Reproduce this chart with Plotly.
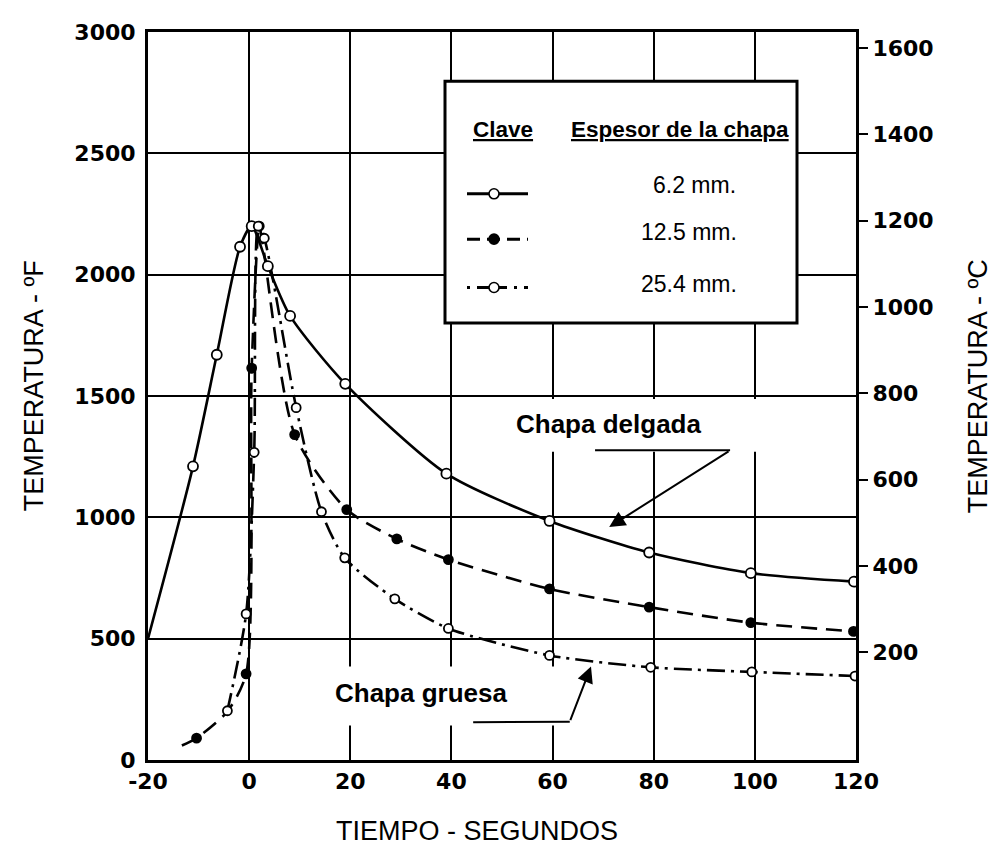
import plotly.graph_objects as go

# ---------------- data ----------------
time_62 = [-20, -11.1, -6.4, -1.8, 0.5, 3.7, 8.1, 19.0, 39.0, 59.4, 79.1, 99.2, 119.6]
temp_62 = [500, 1210, 1670, 2115, 2200, 2035, 1830, 1550, 1180, 985, 855, 770, 735]
marked_62 = [False] + [True] * 12

time_125 = [-13.3, -10.4, -4.3, -0.6, 0.5, 2.0, 2.8, 9.0, 19.3, 29.2, 39.4, 59.4, 79.1, 99.2, 119.5]
temp_125 = [60, 90, 200, 355, 1615, 2200, 2110, 1341, 1032, 911, 826, 705, 630, 566, 530]
marked_125 = [False, True, False, True, True, True, False, True, True, True, True, True, True, True, True]

time_254 = [-4.3, -0.6, 1.0, 1.8, 3.0, 9.3, 14.3, 18.9, 28.8, 39.4, 59.4, 79.4, 99.4, 119.8]
temp_254 = [203, 602, 1268, 2200, 2150, 1452, 1023, 833, 664, 542, 431, 382, 363, 346]
marked_254 = [True] * 14

x_ticks = [-20, 0, 20, 40, 60, 80, 100, 120]
f_ticks = [0, 500, 1000, 1500, 2000, 2500, 3000]
c_ticks = [200, 400, 600, 800, 1000, 1200, 1400, 1600]

legend_labels = ["6.2 mm.", "12.5 mm.", "25.4 mm."]

# ---------------- layout geometry (page pixels; body has an 8px margin) ----------------
OFF = 8
W, H = 1004 - 2 * OFF, 854 - 2 * OFF
L, R, T, B = 148, 856, 22, 760   # plot area in page pixels


def px(x):
    return (x - L) / (R - L)


def py(y):
    return (B - y) / (B - T)


def pick(vals, mask):
    return [v for v, m in zip(vals, mask) if m]


fig = go.Figure()

sm = 0.7
series = [
    (time_62, temp_62, marked_62, "solid", "white", 10, legend_labels[0]),
    (time_125, temp_125, marked_125, "16px,9px", "black", 9, legend_labels[1]),
    (time_254, temp_254, marked_254, "18px,6px,3px,6px", "white", 9, legend_labels[2]),
]
for xs, ys, mask, dash, fill, msize, name in series:
    fig.add_trace(go.Scatter(
        x=xs, y=ys, mode="lines", name=name, showlegend=False,
        line=dict(color="black", width=2.6, dash=dash, shape="spline", smoothing=sm)))
for xs, ys, mask, dash, fill, msize, name in series:
    fig.add_trace(go.Scatter(
        x=pick(xs, mask), y=pick(ys, mask), mode="markers", name=name, showlegend=False,
        marker=dict(symbol="circle", size=msize, color=fill, opacity=1,
                    line=dict(color="black", width=1.8))))

tickfont = dict(family="DejaVu Sans", size=22, color="black", weight="bold")

fig.update_layout(
    width=W, height=H,
    margin=dict(l=L - OFF, r=W - (R - OFF), t=T - OFF, b=H - (B - OFF)),
    paper_bgcolor="white", plot_bgcolor="white",
    showlegend=False,
    xaxis=dict(range=[-20, 120], tickvals=x_ticks, ticktext=[str(v) for v in x_ticks],
               showgrid=True, gridcolor="black", gridwidth=1.5,
               showline=True, linecolor="black", linewidth=3, mirror=True,
               ticks="", zeroline=False, tickfont=tickfont, ticklabelstandoff=0),
    yaxis=dict(range=[0, 3000], tickvals=f_ticks, ticktext=[str(v) for v in f_ticks],
               showgrid=True, gridcolor="black", gridwidth=1.5,
               showline=True, linecolor="black", linewidth=3, mirror=True,
               ticks="", zeroline=False, tickfont=tickfont, ticklabelstandoff=5),
    yaxis2=dict(overlaying="y", side="right", range=[-49, 1637], tickvals=c_ticks,
                ticktext=[str(v) for v in c_ticks],
                showgrid=False, zeroline=False, showline=False,
                ticks="outside", ticklen=11, tickwidth=2, tickcolor="black",
                tickfont=tickfont, ticklabelstandoff=0),
)

# invisible anchor so the right axis is drawn
fig.add_trace(go.Scatter(x=[None], y=[None], yaxis="y2", showlegend=False, hoverinfo="skip"))

shapes = []
# white patches behind the callout labels (cover grid lines)
shapes.append(dict(type="rect", xref="x", yref="y", x0=49.6, x1=119.6, y0=1270, y1=1488,
                   fillcolor="white", line=dict(width=0), layer="between"))
shapes.append(dict(type="rect", xref="x", yref="y", x0=12, x1=61.3, y0=142, y1=385,
                   fillcolor="white", line=dict(width=0), layer="between"))
# callout leader lines
shapes.append(dict(type="line", xref="x", yref="y", x0=68.4, y0=1276, x1=95.1, y1=1276,
                   line=dict(color="black", width=2), layer="above"))
shapes.append(dict(type="line", xref="x", yref="y", x0=44.3, y0=156, x1=63.4, y1=158,
                   line=dict(color="black", width=2), layer="above"))

# key box
shapes.append(dict(type="rect", xref="paper", yref="paper",
                   x0=px(445), x1=px(797), y0=py(317), y1=py(72),
                   fillcolor="white", line=dict(color="black", width=3), layer="above"))
key_y = [186, 232, 281]
dashes = ["solid", "13px,7px", "3px,7px,30px,7px"]
fills = ["white", "black", "white"]
for yy, d, f in zip(key_y, dashes, fills):
    shapes.append(dict(type="line", xref="paper", yref="paper",
                       x0=px(467), x1=px(528), y0=py(yy), y1=py(yy),
                       line=dict(color="black", width=3, dash=d), layer="above"))
    shapes.append(dict(type="circle", xref="paper", yref="paper",
                       xsizemode="pixel", ysizemode="pixel",
                       xanchor=px(494), yanchor=py(yy), x0=-5, x1=5, y0=-5, y1=5,
                       fillcolor=f, line=dict(color="black", width=1.6), layer="above"))
fig.update_layout(shapes=shapes)

ann = []
hdr = dict(family="Liberation Sans", size=22.5, color="black", weight="bold")
ann.append(dict(xref="paper", yref="paper", x=px(503), y=py(121), text="<u>Clave</u>",
                showarrow=False, font=hdr, xanchor="center", yanchor="middle"))
ann.append(dict(xref="paper", yref="paper", x=px(680), y=py(121), text="<u>Espesor de la chapa</u>",
                showarrow=False, font=hdr, xanchor="center", yanchor="middle"))
lab = dict(family="Liberation Sans", size=23, color="black")
for txt, xx, yy in zip(legend_labels, [694, 689, 689], [177, 225, 277]):
    ann.append(dict(xref="paper", yref="paper", x=px(xx), y=py(yy), text=txt,
                    showarrow=False, font=lab, xanchor="center", yanchor="middle"))

call = dict(family="Liberation Sans", size=26, color="black", weight="bold")
ann.append(dict(xref="x", yref="y", x=71.0, y=1385, text="Chapa delgada", showarrow=False,
                font=call, xanchor="center", yanchor="middle"))
ann.append(dict(xref="x", yref="y", x=34.0, y=277, text="Chapa gruesa", showarrow=False,
                font=call, xanchor="center", yanchor="middle"))
# arrows
ann.append(dict(xref="x", yref="y", axref="x", ayref="y", x=71.2, y=960, ax=95.1, ay=1276,
                text="", showarrow=True, arrowhead=2, arrowsize=1.6, arrowwidth=2,
                arrowcolor="black", standoff=0))
ann.append(dict(xref="x", yref="y", axref="x", ayref="y", x=67.6, y=385, ax=63.4, ay=158,
                text="", showarrow=True, arrowhead=2, arrowsize=1.6, arrowwidth=2,
                arrowcolor="black", standoff=0))

ttl = dict(family="Liberation Sans", size=27, color="black")
ann.append(dict(xref="paper", yref="paper", x=px(34), y=py(381), text="TEMPERATURA - ºF",
                textangle=-90, showarrow=False, font=ttl, xanchor="center", yanchor="middle"))
ann.append(dict(xref="paper", yref="paper", x=px(978), y=py(381), text="TEMPERATURA - ºC",
                textangle=-90, showarrow=False, font=ttl, xanchor="center", yanchor="middle"))
ann.append(dict(xref="paper", yref="paper", x=px(477), y=py(832), text="TIEMPO - SEGUNDOS",
                showarrow=False, font=ttl, xanchor="center", yanchor="middle"))
fig.update_layout(annotations=ann)

fig.write_html("out.html")
